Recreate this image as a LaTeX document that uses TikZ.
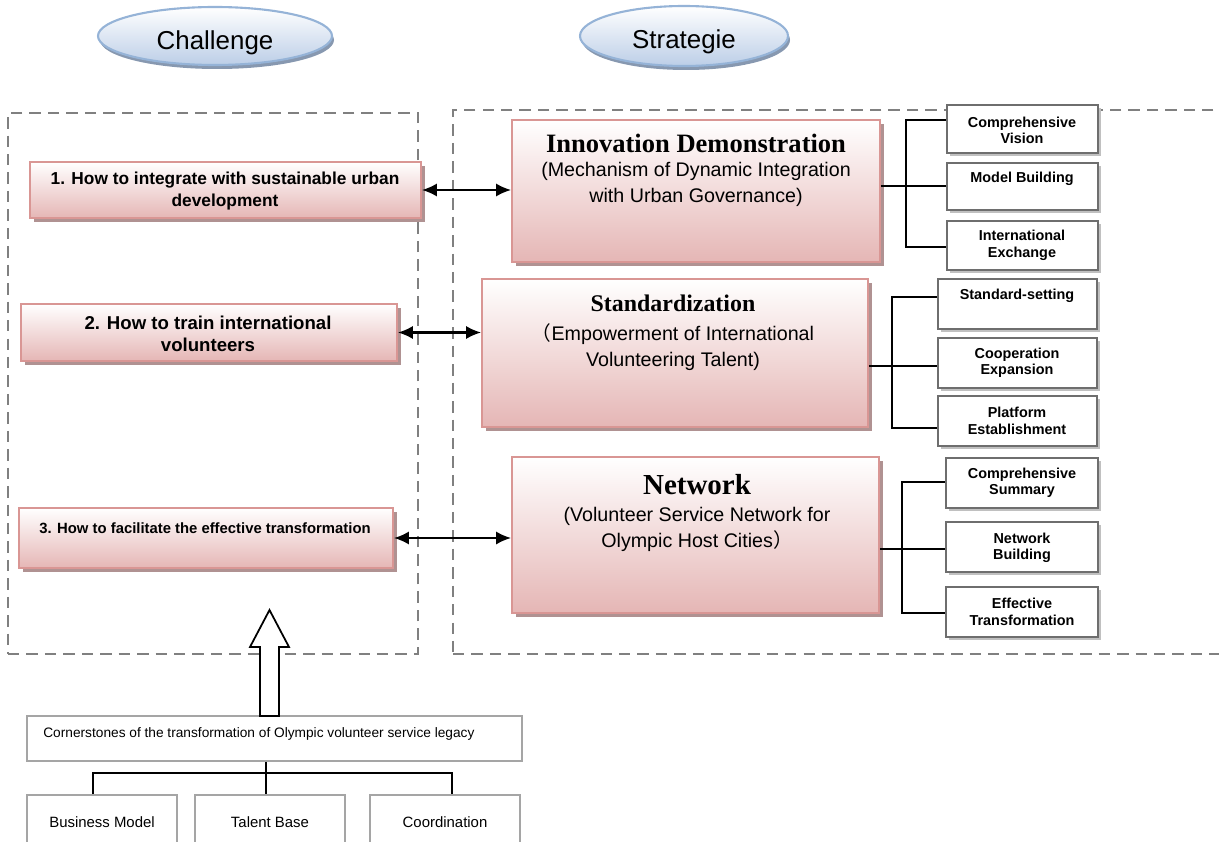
\documentclass[tikz,border=0pt]{standalone}
\usepackage{fontspec}
\setmainfont{Liberation Sans}
\newfontfamily\timesf{Liberation Serif}
\newfontfamily\cjkf{Noto Sans CJK SC}
\usetikzlibrary{shadows,shapes.geometric,arrows.meta}
\newlength\pxu \setlength\pxu{0.02cm}
\definecolor{pinkline}{RGB}{217,150,148}
\definecolor{pinkbot}{RGB}{229,182,181}
\definecolor{pinkshadow}{RGB}{176,146,146}
\definecolor{boxline}{RGB}{110,110,110}
\definecolor{boxshadow}{RGB}{192,192,192}
\definecolor{ellline}{RGB}{149,179,215}
\definecolor{ellbot}{RGB}{188,206,231}
\definecolor{ellshadow}{RGB}{135,152,176}
\definecolor{dashgray}{RGB}{128,128,128}
\definecolor{lightline}{RGB}{165,165,165}
\tikzset{
  dashbox/.style={draw=dashgray, line width=0.85pt, dash pattern=on 6.5pt off 4pt},
  pinkbox/.style={draw=pinkline, line width=1.1pt, top color=white, bottom color=pinkbot, inner sep=0pt,
    drop shadow={shadow xshift=4\pxu, shadow yshift=-4\pxu, fill=pinkshadow, opacity=1}},
  smallbox/.style={draw=boxline, line width=1.4pt, fill=white, inner sep=0pt,
    drop shadow={shadow xshift=3\pxu, shadow yshift=-3\pxu, fill=boxshadow, opacity=1}},
  ell/.style={ellipse, draw=ellline, line width=1.2pt, top color=white, bottom color=ellbot, inner sep=0pt,
    drop shadow={shadow xshift=2\pxu, shadow yshift=-4\pxu, fill=ellshadow, opacity=1}},
  elltext/.style={font=\fontsize{14.75}{16}\selectfont, inner sep=0pt},
  graybox/.style={draw=lightline, line width=0.9pt, fill=white, inner sep=0pt},
  qtext/.style={font=\bfseries\fontsize{8.45}{12.5}\selectfont, align=center, inner sep=0pt},
  subtext/.style={font=\fontsize{11.2}{14.75}\selectfont, align=center, inner sep=0pt},
  stext/.style={font=\bfseries\fontsize{8.2}{9.4}\selectfont, align=center, inner sep=0pt},
  conn/.style={draw=black, line width=0.9pt},
  dbl/.style={draw=black, line width=1.2pt, arrows={Latex[length=8.5pt,width=7.5pt]-Latex[length=8.5pt,width=7.5pt]}},
}
\begin{document}
\begin{tikzpicture}[x=0.02cm,y=-0.02cm]
\useasboundingbox (0,0) rectangle (1219,841);
\clip (0,0) rectangle (1219,841);

% dashed frames
\node[dashbox, minimum width=410\pxu, minimum height=541\pxu] (lf) at (213,383.5) {};
\node[dashbox, minimum width=800\pxu, minimum height=544\pxu] (rf) at (853,382) {};

% header ellipses
\node[ell, minimum width=234\pxu, minimum height=58\pxu] (ch) at (215,36) {};
\node[elltext] (cht) at (215,43) {Challenge};
\node[ell, minimum width=208\pxu, minimum height=60\pxu] (stg) at (684,36) {};
\node[elltext] (stgt) at (684,42) {Strategie};

% challenge boxes
\node[pinkbox, minimum width=391\pxu, minimum height=56\pxu] (q1) at (225.5,190) {};
\node[qtext, font=\bfseries\fontsize{9.85}{12.5}\selectfont] (q1t) at (225,191) {1. How to integrate with sustainable urban\\development};
\node[pinkbox, minimum width=376\pxu, minimum height=57\pxu] (q2) at (209,332.5) {};
\node[qtext, font=\bfseries\fontsize{10.6}{12.5}\selectfont] (q2t) at (208,334) {2. How to train international\\volunteers};
\node[pinkbox, minimum width=374\pxu, minimum height=60\pxu] (q3) at (206,538) {};
\node[qtext] (q3t) at (205,528) {3. How to facilitate the effective transformation};

% strategy boxes
\node[pinkbox, minimum width=368\pxu, minimum height=142\pxu] (s1) at (696,191) {};
\node[font=\timesf\bfseries\fontsize{15.1}{18}\selectfont, inner sep=0pt] (s1h) at (696,143) {Innovation Demonstration};
\node[subtext] (s1t) at (696,184) {(Mechanism of Dynamic Integration\\with Urban Governance)};

\node[pinkbox, minimum width=386\pxu, minimum height=148\pxu] (s2) at (675,353) {};
\node[font=\timesf\bfseries\fontsize{13.6}{16}\selectfont, inner sep=0pt] (s2h) at (673,303) {Standardization};
\node[subtext] (s2t) at (673,347) {{\cjkf （}Empowerment of International\\Volunteering Talent)};

\node[pinkbox, minimum width=367\pxu, minimum height=156\pxu] (s3) at (695.5,535) {};
\node[font=\timesf\bfseries\fontsize{16.5}{19}\selectfont, inner sep=0pt] (s3h) at (697,485) {Network};
\node[subtext] (s3t) at (697,529.5) {(Volunteer Service Network for\\Olympic Host Cities{\cjkf ）}};

% double arrows
\draw[dbl] (q1.east) -- (s1.west |- q1.east);
\draw[dbl] (q2.east) -- (s2.west |- q2.east);
\draw[dbl] (q3.east) -- (s3.west |- q3.east);

% small boxes group A
\node[smallbox, minimum width=151\pxu, minimum height=48\pxu] (a1) at (1022.5,129) {};
\node[stext] (a1t) at (1022,130.5) {Comprehensive\\Vision};
\node[smallbox, minimum width=151\pxu, minimum height=47\pxu] (a2) at (1022.5,186.5) {};
\node[stext] (a2t) at (1022,179) {Model Building};
\node[smallbox, minimum width=151\pxu, minimum height=49\pxu] (a3) at (1022.5,245.5) {};
\node[stext] (a3t) at (1022,245.5) {International\\Exchange};

% group B
\node[smallbox, minimum width=159\pxu, minimum height=50\pxu] (b1) at (1017.5,304) {};
\node[stext] (b1t) at (1017,296) {Standard-setting};
\node[smallbox, minimum width=159\pxu, minimum height=50\pxu] (b2) at (1017.5,363) {};
\node[stext] (b2t) at (1017,363) {Cooperation\\Expansion};
\node[smallbox, minimum width=159\pxu, minimum height=50\pxu] (b3) at (1017.5,421) {};
\node[stext] (b3t) at (1017,421) {Platform\\Establishment};

% group C
\node[smallbox, minimum width=152\pxu, minimum height=50\pxu] (c1) at (1022,483) {};
\node[stext] (c1t) at (1022,483) {Comprehensive\\Summary};
\node[smallbox, minimum width=152\pxu, minimum height=50\pxu] (c2) at (1022,547) {};
\node[stext] (c2t) at (1022,548) {Network\\Building};
\node[smallbox, minimum width=152\pxu, minimum height=50\pxu] (c3) at (1022,612) {};
\node[stext] (c3t) at (1022,612) {Effective\\Transformation};

% tree connectors
\coordinate (ja1) at (906,120);
\coordinate (ja2) at (906,186);
\coordinate (ja3) at (906,247);
\draw[conn] (a1.west |- ja1) -- (ja1) -- (ja3) -- (a3.west |- ja3);
\draw[conn] (s1.east |- ja2) -- (a2.west |- ja2);

\coordinate (jb1) at (892,297);
\coordinate (jb2) at (892,366);
\coordinate (jb3) at (892,428);
\draw[conn] (b1.west |- jb1) -- (jb1) -- (jb3) -- (b3.west |- jb3);
\draw[conn] (s2.east |- jb2) -- (b2.west |- jb2);

\coordinate (jc1) at (902,482);
\coordinate (jc2) at (902,549);
\coordinate (jc3) at (902,613);
\draw[conn] (c1.west |- jc1) -- (jc1) -- (jc3) -- (c3.west |- jc3);
\draw[conn] (s3.east |- jc2) -- (c2.west |- jc2);

% cornerstones
\node[graybox, minimum width=495\pxu, minimum height=45\pxu] (cs) at (274.5,738.5) {};
\node[anchor=west, inner sep=0pt, font=\fontsize{7.8}{9}\selectfont] (cst) at (43,734) {Cornerstones of the transformation of Olympic volunteer service legacy};

\node[graybox, minimum width=150\pxu, minimum height=90\pxu] (bm) at (102,840) {};
\node[inner sep=0pt, font=\fontsize{8.5}{10}\selectfont] (bmt) at (102,822) {Business Model};
\node[graybox, minimum width=150\pxu, minimum height=90\pxu] (tb) at (270,840) {};
\node[inner sep=0pt, font=\fontsize{8.5}{10}\selectfont] (tbt) at (270,822) {Talent Base};
\node[graybox, minimum width=150\pxu, minimum height=90\pxu] (co) at (445,840) {};
\node[inner sep=0pt, font=\fontsize{8.5}{10}\selectfont] (cot) at (445,822) {Coordination};

\coordinate (tl) at (93,773);
\coordinate (tm) at (266,773);
\coordinate (tr) at (452,773);
\draw[conn] (tl |- bm.north) -- (tl) -- (tr) -- (tr |- co.north);
\draw[conn] (tm |- cs.south) -- (tm |- tb.north);

% hollow block arrow
\draw[line width=1pt, fill=white, line join=miter]
  (260,716) -- (260,647) -- (250,647) -- (269.5,610) -- (289,647) -- (279,647) -- (279,716) -- cycle;
\end{tikzpicture}
\end{document}
